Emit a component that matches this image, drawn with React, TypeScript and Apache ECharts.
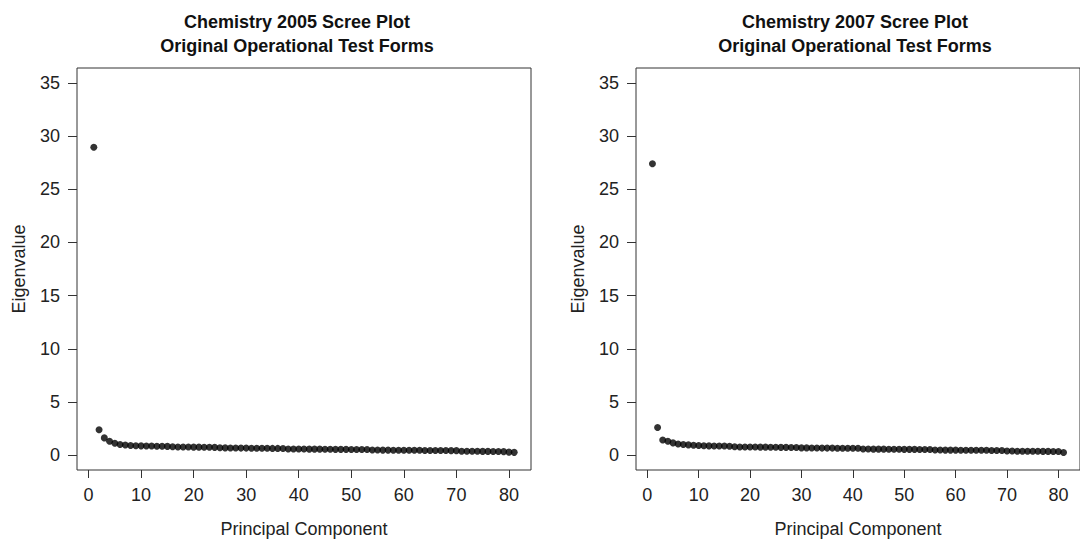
import React, { useEffect, useRef } from "react";
import * as echarts from "echarts";

const componentIndex = [
  1, 2, 3, 4, 5, 6, 7, 8, 9, 10, 11, 12, 13, 14, 15, 16, 17, 18, 19, 20,
  21, 22, 23, 24, 25, 26, 27, 28, 29, 30, 31, 32, 33, 34, 35, 36, 37, 38, 39, 40,
  41, 42, 43, 44, 45, 46, 47, 48, 49, 50, 51, 52, 53, 54, 55, 56, 57, 58, 59, 60,
  61, 62, 63, 64, 65, 66, 67, 68, 69, 70, 71, 72, 73, 74, 75, 76, 77, 78, 79, 80, 81,
];

const eigen2005 = [
  28.95, 2.38, 1.62, 1.3, 1.12, 1.0, 0.95, 0.9, 0.88, 0.87,
  0.86, 0.85, 0.84, 0.83, 0.82, 0.78, 0.77, 0.76, 0.76, 0.75,
  0.75, 0.74, 0.74, 0.73, 0.69, 0.68, 0.67, 0.67, 0.66, 0.66,
  0.65, 0.65, 0.64, 0.64, 0.63, 0.63, 0.62, 0.58, 0.58, 0.57,
  0.57, 0.56, 0.56, 0.56, 0.55, 0.55, 0.54, 0.54, 0.54, 0.53,
  0.53, 0.52, 0.52, 0.48, 0.48, 0.47, 0.47, 0.46, 0.46, 0.46,
  0.45, 0.45, 0.45, 0.44, 0.44, 0.43, 0.43, 0.43, 0.42, 0.42,
  0.37, 0.37, 0.36, 0.36, 0.35, 0.35, 0.34, 0.34, 0.33, 0.28, 0.26,
];

const eigen2007 = [
  27.4, 2.6, 1.42, 1.3, 1.15, 1.05, 1.0, 0.96, 0.93, 0.91,
  0.88, 0.87, 0.86, 0.86, 0.85, 0.84, 0.78, 0.77, 0.77, 0.76,
  0.76, 0.75, 0.75, 0.74, 0.74, 0.73, 0.73, 0.72, 0.72, 0.68,
  0.68, 0.67, 0.67, 0.66, 0.66, 0.66, 0.65, 0.65, 0.64, 0.64,
  0.64, 0.57, 0.57, 0.56, 0.56, 0.56, 0.55, 0.55, 0.55, 0.54,
  0.54, 0.54, 0.53, 0.53, 0.53, 0.48, 0.48, 0.47, 0.47, 0.47,
  0.46, 0.46, 0.46, 0.45, 0.45, 0.45, 0.44, 0.44, 0.44, 0.38,
  0.38, 0.37, 0.37, 0.36, 0.36, 0.36, 0.35, 0.35, 0.34, 0.34, 0.25,
];

const xTicks = [0, 10, 20, 30, 40, 50, 60, 70, 80];
const yTicks = [0, 5, 10, 15, 20, 25, 30, 35];

const titles = [
  "Chemistry 2005 Scree Plot\nOriginal Operational Test Forms",
  "Chemistry 2007 Scree Plot\nOriginal Operational Test Forms",
];
const xName = "Principal Component";
const yName = "Eigenvalue";

const FONT = "'Liberation Sans', Arial, sans-serif";
const TEXT = "#222";
const LINE = "#333";

export default function App() {
  const ref = useRef<HTMLDivElement>(null);

  useEffect(() => {
    if (!ref.current) return;
    const chart = echarts.init(ref.current, undefined, { renderer: "svg" });

    const grids = [
      { left: 77, top: 68, width: 454, height: 403 },
      { left: 636, top: 68, width: 454, height: 403 },
    ];
    const titleCenters = [292, 850];

    const xAxes = grids.map((_, i) => ({
      type: "value",
      gridIndex: i,
      position: "bottom",
      min: -2.2,
      max: 84.2,
      name: xName,
      nameLocation: "middle",
      nameGap: 50,
      nameTextStyle: { fontFamily: FONT, fontSize: 18, color: TEXT },
      axisLine: { show: false, onZero: false },
      axisTick: {
        show: true,
        inside: false,
        length: 8,
        customValues: xTicks,
        lineStyle: { color: LINE, width: 1 },
      },
      axisLabel: {
        customValues: xTicks,
        margin: 16,
        fontFamily: FONT,
        fontSize: 18,
        color: TEXT,
      },
      splitLine: { show: false },
    }));

    const yAxes = grids.map((_, i) => ({
      type: "value",
      gridIndex: i,
      position: "left",
      min: -1.4,
      max: 36.4,
      name: yName,
      nameLocation: "middle",
      nameRotate: 90,
      nameGap: 49,
      nameTextStyle: { fontFamily: FONT, fontSize: 18, color: TEXT },
      axisLine: { show: false, onZero: false },
      axisTick: {
        show: true,
        inside: false,
        length: 9,
        customValues: yTicks,
        lineStyle: { color: LINE, width: 1 },
      },
      axisLabel: {
        customValues: yTicks,
        margin: 17,
        fontFamily: FONT,
        fontSize: 18,
        color: TEXT,
      },
      splitLine: { show: false },
    }));

    const datasets = [eigen2005, eigen2007];

    chart.setOption({
      animation: false,
      backgroundColor: "#ffffff",
      title: titles.map((t, i) => ({
        text: t,
        left: titleCenters[i],
        top: 5,
        textAlign: "center",
        textStyle: {
          fontFamily: FONT,
          fontSize: 18,
          fontWeight: "bold",
          color: "#111",
          lineHeight: 24,
        },
      })),
      grid: grids.map((g) => ({
        ...g,
        show: true,
        borderColor: LINE,
        borderWidth: 1,
        backgroundColor: "transparent",
      })),
      xAxis: xAxes,
      yAxis: yAxes,
      series: datasets.map((d, i) => ({
        type: "scatter",
        xAxisIndex: i,
        yAxisIndex: i,
        symbol: "circle",
        symbolSize: 7,
        itemStyle: { color: "#000" },
        data: componentIndex.map((x, k) => [x, d[k]]),
      })),
    });

    return () => chart.dispose();
  }, []);

  return (
    <div
      ref={ref}
      style={{ position: "fixed", left: 0, top: 0, width: 1080, height: 543 }}
    />
  );
}
